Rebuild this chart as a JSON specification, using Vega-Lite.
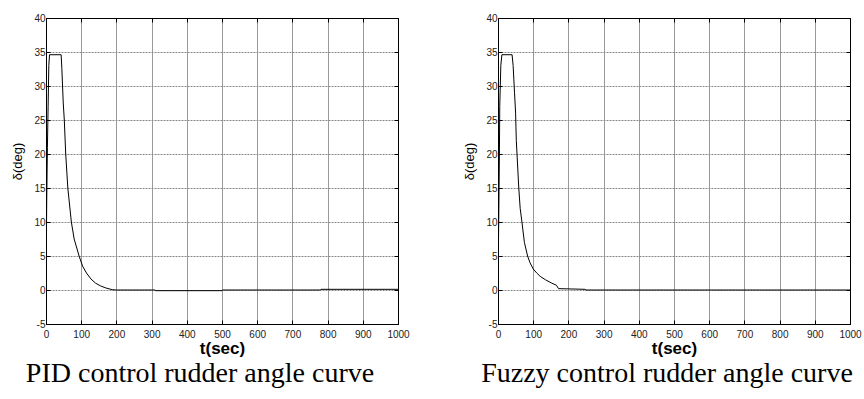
{
  "$schema": "https://vega.github.io/schema/vega-lite/v6.json",
  "padding": {"left": 11, "top": 12, "right": 4, "bottom": 2},
  "background": "white",
  "datasets": {
    "pid": [
      {"t": 0, "d": 0}, {"t": 2, "d": 13}, {"t": 4, "d": 21}, {"t": 6, "d": 27}, {"t": 8, "d": 33},
      {"t": 10, "d": 34.6}, {"t": 43, "d": 34.6}, {"t": 45, "d": 32.6}, {"t": 49, "d": 27.5},
      {"t": 52, "d": 25}, {"t": 56, "d": 20}, {"t": 62, "d": 15}, {"t": 72, "d": 10},
      {"t": 80, "d": 7.5}, {"t": 94, "d": 5}, {"t": 104, "d": 3.5}, {"t": 115, "d": 2.5},
      {"t": 128, "d": 1.6}, {"t": 141, "d": 1}, {"t": 155, "d": 0.6}, {"t": 170, "d": 0.3},
      {"t": 188, "d": 0.05}, {"t": 200, "d": 0}, {"t": 310, "d": 0}, {"t": 311, "d": -0.1},
      {"t": 500, "d": -0.1}, {"t": 501, "d": 0}, {"t": 780, "d": 0}, {"t": 781, "d": 0.1},
      {"t": 1000, "d": 0.1}
    ],
    "fuzzy": [
      {"t": 0, "d": 0}, {"t": 2, "d": 10}, {"t": 4, "d": 20}, {"t": 5, "d": 27}, {"t": 8, "d": 33},
      {"t": 11, "d": 34.6}, {"t": 40, "d": 34.6}, {"t": 43, "d": 33}, {"t": 45, "d": 31},
      {"t": 47, "d": 29}, {"t": 50, "d": 26}, {"t": 51, "d": 24}, {"t": 52, "d": 22},
      {"t": 54, "d": 20}, {"t": 59, "d": 15}, {"t": 63, "d": 12}, {"t": 68, "d": 10},
      {"t": 75, "d": 7}, {"t": 84, "d": 5}, {"t": 91, "d": 4}, {"t": 100, "d": 3.1},
      {"t": 110, "d": 2.5}, {"t": 120, "d": 2}, {"t": 135, "d": 1.5}, {"t": 153, "d": 1},
      {"t": 166, "d": 0.7}, {"t": 172, "d": 0.2}, {"t": 247, "d": 0.1}, {"t": 250, "d": 0},
      {"t": 1000, "d": 0}
    ]
  },
  "config": {
    "view": {"stroke": "black", "strokeWidth": 1},
    "axis": {
      "labelFont": "Liberation Sans", "labelFontSize": 10, "labelColor": "#222",
      "titleFont": "Liberation Sans", "titleColor": "black",
      "domainColor": "black", "tickColor": "black", "gridColor": "#999", "gridWidth": 1
    },
    "concat": {"spacing": 53}
  },
  "hconcat": [
    {
      "width": 352, "height": 306,
      "title": {"text": "PID control rudder angle curve", "orient": "bottom", "font": "Liberation Serif", "fontSize": 28, "fontWeight": "normal", "color": "black", "dx": -22, "offset": 4},
      "data": {"name": "pid"},
      "layer": [
        {
          "mark": {"type": "line", "color": "black", "strokeWidth": 1, "clip": true},
          "encoding": {
            "x": {"field": "t", "type": "quantitative", "scale": {"domain": [0, 1000], "nice": false},
              "axis": {"values": [0,100,200,300,400,500,600,700,800,900,1000], "labelExpr": "'' + datum.value", "labelFlush": false, "tickSize": -4, "labelPadding": 9, "title": "t(sec)", "titleFontSize": 17, "titleFontWeight": "bold", "titlePadding": 1}},
            "y": {"field": "d", "type": "quantitative", "scale": {"domain": [-5, 40], "nice": false},
              "axis": {"values": [-5,0,5,10,15,20,25,30,35,40], "labelExpr": "'' + datum.value", "tickSize": -4, "labelPadding": 5, "title": "δ(deg)", "titleFontSize": 13, "titleFontWeight": "normal", "titlePadding": 9, "titleY": 143, "gridDash": [2, 1], "gridColor": "#888"}}
          }
        },
        {
          "mark": {"type": "line", "opacity": 0},
          "encoding": {
            "x": {"field": "t", "type": "quantitative", "axis": {"orient": "top", "values": [0,100,200,300,400,500,600,700,800,900,1000], "labels": false, "grid": false, "title": null, "tickSize": -4}},
            "y": {"field": "d", "type": "quantitative", "axis": {"orient": "right", "values": [-5,0,5,10,15,20,25,30,35,40], "labels": false, "grid": false, "title": null, "tickSize": -4}}
          }
        }
      ],
      "resolve": {"axis": {"x": "independent", "y": "independent"}}
    },
    {
      "width": 352, "height": 306,
      "title": {"text": "Fuzzy control rudder angle curve", "orient": "bottom", "font": "Liberation Serif", "fontSize": 28, "fontWeight": "normal", "color": "black", "dx": -7, "offset": 4},
      "data": {"name": "fuzzy"},
      "layer": [
        {
          "mark": {"type": "line", "color": "black", "strokeWidth": 1, "clip": true},
          "encoding": {
            "x": {"field": "t", "type": "quantitative", "scale": {"domain": [0, 1000], "nice": false},
              "axis": {"values": [0,100,200,300,400,500,600,700,800,900,1000], "labelExpr": "'' + datum.value", "labelFlush": false, "tickSize": -4, "labelPadding": 9, "title": "t(sec)", "titleFontSize": 17, "titleFontWeight": "bold", "titlePadding": 1}},
            "y": {"field": "d", "type": "quantitative", "scale": {"domain": [-5, 40], "nice": false},
              "axis": {"values": [-5,0,5,10,15,20,25,30,35,40], "labelExpr": "'' + datum.value", "tickSize": -4, "labelPadding": 5, "title": "δ(deg)", "titleFontSize": 13, "titleFontWeight": "normal", "titlePadding": 9, "titleY": 143, "gridDash": [2, 1], "gridColor": "#888"}}
          }
        },
        {
          "mark": {"type": "line", "opacity": 0},
          "encoding": {
            "x": {"field": "t", "type": "quantitative", "axis": {"orient": "top", "values": [0,100,200,300,400,500,600,700,800,900,1000], "labels": false, "grid": false, "title": null, "tickSize": -4}},
            "y": {"field": "d", "type": "quantitative", "axis": {"orient": "right", "values": [-5,0,5,10,15,20,25,30,35,40], "labels": false, "grid": false, "title": null, "tickSize": -4}}
          }
        }
      ],
      "resolve": {"axis": {"x": "independent", "y": "independent"}}
    }
  ]
}
